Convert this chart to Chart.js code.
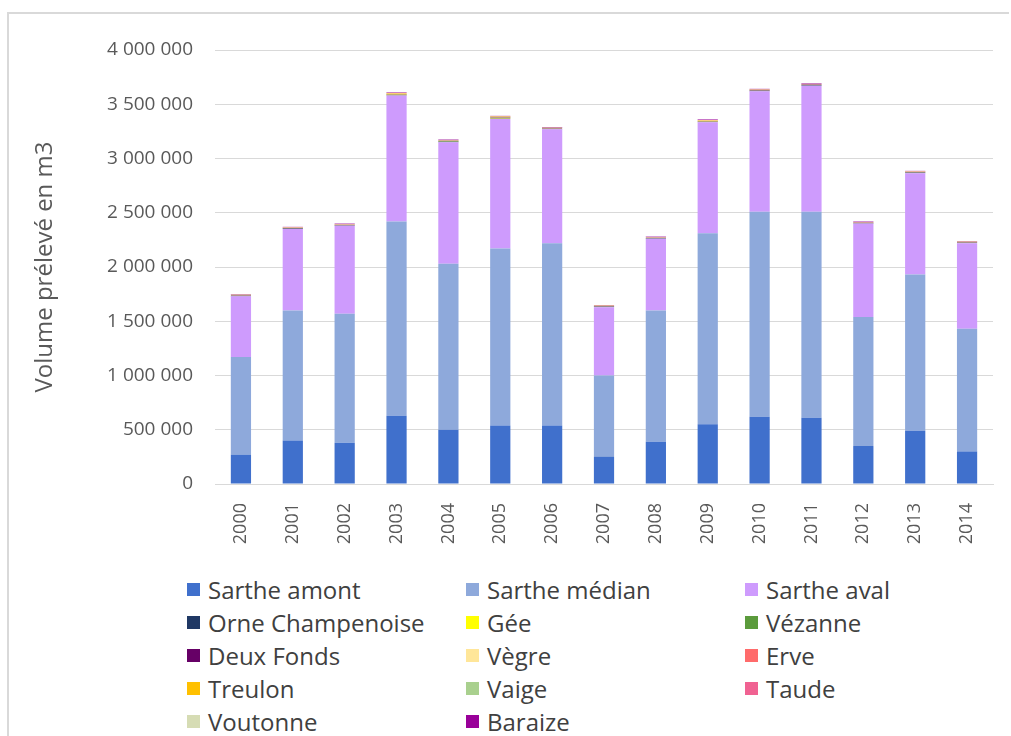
<!DOCTYPE html>
<html>
<head>
<meta charset="utf-8">
<script src="https://cdn.jsdelivr.net/npm/chart.js@4"></script>
<style>
    body { margin: 0; background: #fff; width: 1011px; height: 736px; overflow: hidden; position: relative; font-family: "Open Sans", sans-serif; }
    #frame { position: absolute; left: 7px; top: 12px; width: 1000px; height: 730px; border-top: 2px solid #d9d9d9; border-left: 2px solid #d9d9d9; }
    #chart { position: absolute; left: 0; top: 0; }
    #legend { position: absolute; left: 187px; top: 573px; display: grid; grid-template-columns: 279px 279px 279px; grid-auto-rows: 33px; }
    .item { display: flex; align-items: center; font-size: 24px; color: #404040; white-space: nowrap; }
    .box { width: 13px; height: 13px; margin-right: 8px; flex: none; }
</style>
</head>
<body>
<div id="frame"></div>
<canvas id="chart" width="1011" height="560"></canvas>
<div id="legend"></div>
<script>
const years = ['2000','2001','2002','2003','2004','2005','2006','2007','2008','2009','2010','2011','2012','2013','2014'];
const yTicks = [0, 500000, 1000000, 1500000, 2000000, 2500000, 3000000, 3500000, 4000000];

// main basins (m3)
const sartheAmont  = [270000, 400000, 380000, 630000, 500000, 540000, 540000, 250000, 390000, 550000, 620000, 610000, 350000, 490000, 300000];
const sartheMedian = [900000, 1200000, 1190000, 1790000, 1530000, 1630000, 1680000, 750000, 1210000, 1760000, 1890000, 1900000, 1190000, 1440000, 1130000];
const sartheAval   = [560000, 750000, 810000, 1160000, 1120000, 1195000, 1050000, 630000, 660000, 1025000, 1110000, 1160000, 860000, 935000, 790000];

// small tributaries, barely visible on top of the bars
const orneChampenoise = [4000, 4000, 3000, 3000, 4000, 3000, 3000, 4000, 4000, 3000, 4000, 5000, 3000, 4000, 3000];
const gee        = [1000, 1000, 1000, 5000, 1000, 5000, 1000, 1000, 1000, 3000, 1000, 1000, 1000, 1000, 1000];
const vezanne    = [1000, 1000, 1000, 2000, 5000, 2000, 1000, 1000, 1000, 1000, 1000, 1000, 1000, 2000, 1000];
const deuxFonds  = [3000, 3000, 3000, 4000, 3000, 3000, 3000, 3000, 3000, 3000, 4000, 4000, 3000, 3000, 3000];
const vegre      = [1000, 1000, 1000, 2000, 1000, 2000, 1000, 1000, 1000, 2000, 1000, 1000, 1000, 1000, 1000];
const erve       = [1000, 1000, 1000, 1000, 1000, 1000, 1000, 1000, 1000, 1000, 1000, 1000, 1000, 1000, 1000];
const treulon    = [2000, 2000, 2000, 5000, 2000, 5000, 2000, 2000, 2000, 4000, 2000, 2000, 2000, 2000, 2000];
const vaige      = [1000, 1000, 1000, 1000, 2000, 1000, 1000, 1000, 1000, 1000, 1000, 1000, 1000, 1000, 1000];
const taude      = [1000, 1000, 1000, 1000, 1000, 1000, 1000, 1000, 1000, 1000, 1000, 1000, 1000, 1000, 1000];
const voutonne   = [1000, 1000, 1000, 1000, 1000, 1000, 1000, 1000, 1000, 1000, 1000, 1000, 1000, 1000, 1000];
const baraize    = [4000, 4000, 5000, 5000, 4000, 4000, 5000, 4000, 4000, 5000, 5000, 5000, 4000, 4000, 4000];

const series = [
    { label: 'Sarthe amont', data: sartheAmont, color: '#4070CC' },
    { label: 'Sarthe médian', data: sartheMedian, color: '#8EA9DB' },
    { label: 'Sarthe aval', data: sartheAval, color: '#CE9BFD' },
    { label: 'Orne Champenoise', data: orneChampenoise, color: '#1F3864' },
    { label: 'Gée', data: gee, color: '#FFFF00' },
    { label: 'Vézanne', data: vezanne, color: '#5B9B3C' },
    { label: 'Deux Fonds', data: deuxFonds, color: '#660066' },
    { label: 'Vègre', data: vegre, color: '#FFE699' },
    { label: 'Erve', data: erve, color: '#FF6B6B' },
    { label: 'Treulon', data: treulon, color: '#FFC000' },
    { label: 'Vaige', data: vaige, color: '#A9D08E' },
    { label: 'Taude', data: taude, color: '#F06292' },
    { label: 'Voutonne', data: voutonne, color: '#D6DCB4' },
    { label: 'Baraize', data: baraize, color: '#990099' }
];

function formatNumber(v) {
    return String(v).replace(/\B(?=(\d{3})+(?!\d))/g, ' ');
}

const chart = new Chart(document.getElementById('chart'), {
    type: 'bar',
    data: {
        labels: years,
        datasets: series.map(s => ({
            label: s.label,
            data: s.data,
            backgroundColor: s.color,
            borderWidth: 0,
            categoryPercentage: 1,
            barPercentage: 0.39
        }))
    },
    options: {
        responsive: false,
        animation: false,
        layout: { padding: { left: 28, top: 50, right: 18, bottom: 16 } },
        plugins: {
            legend: { display: false },
            tooltip: { enabled: false }
        },
        scales: {
            x: {
                stacked: true,
                grid: { display: false },
                border: { color: '#d9d9d9' },
                ticks: {
                    minRotation: 90,
                    maxRotation: 90,
                    padding: 11,
                    color: '#595959',
                    font: { family: 'Open Sans', size: 18 }
                },
                afterFit: scale => { scale.height = 60; }
            },
            y: {
                stacked: true,
                min: 0,
                max: 4000000,
                afterBuildTicks: scale => { scale.ticks = yTicks.map(v => ({ value: v })); },
                grid: { color: '#d9d9d9', drawTicks: false },
                border: { display: false },
                ticks: {
                    padding: 22,
                    color: '#595959',
                    font: { family: 'Open Sans', size: 19 },
                    callback: v => formatNumber(v)
                },
                title: {
                    display: true,
                    text: 'Volume prélevé en m3',
                    color: '#595959',
                    padding: { top: 3, bottom: 0 },
                    font: { family: 'Open Sans', size: 24, weight: 'normal' }
                },
                afterFit: scale => { scale.width = 187; }
            }
        }
    }
});

// legend laid out in three columns like the original
const legend = document.getElementById('legend');
legend.innerHTML = chart.data.datasets.map(ds => `
    <div class="item"><span class="box" style="background:${ds.backgroundColor}"></span>${ds.label}</div>
`).join('');
</script>
</body>
</html>
